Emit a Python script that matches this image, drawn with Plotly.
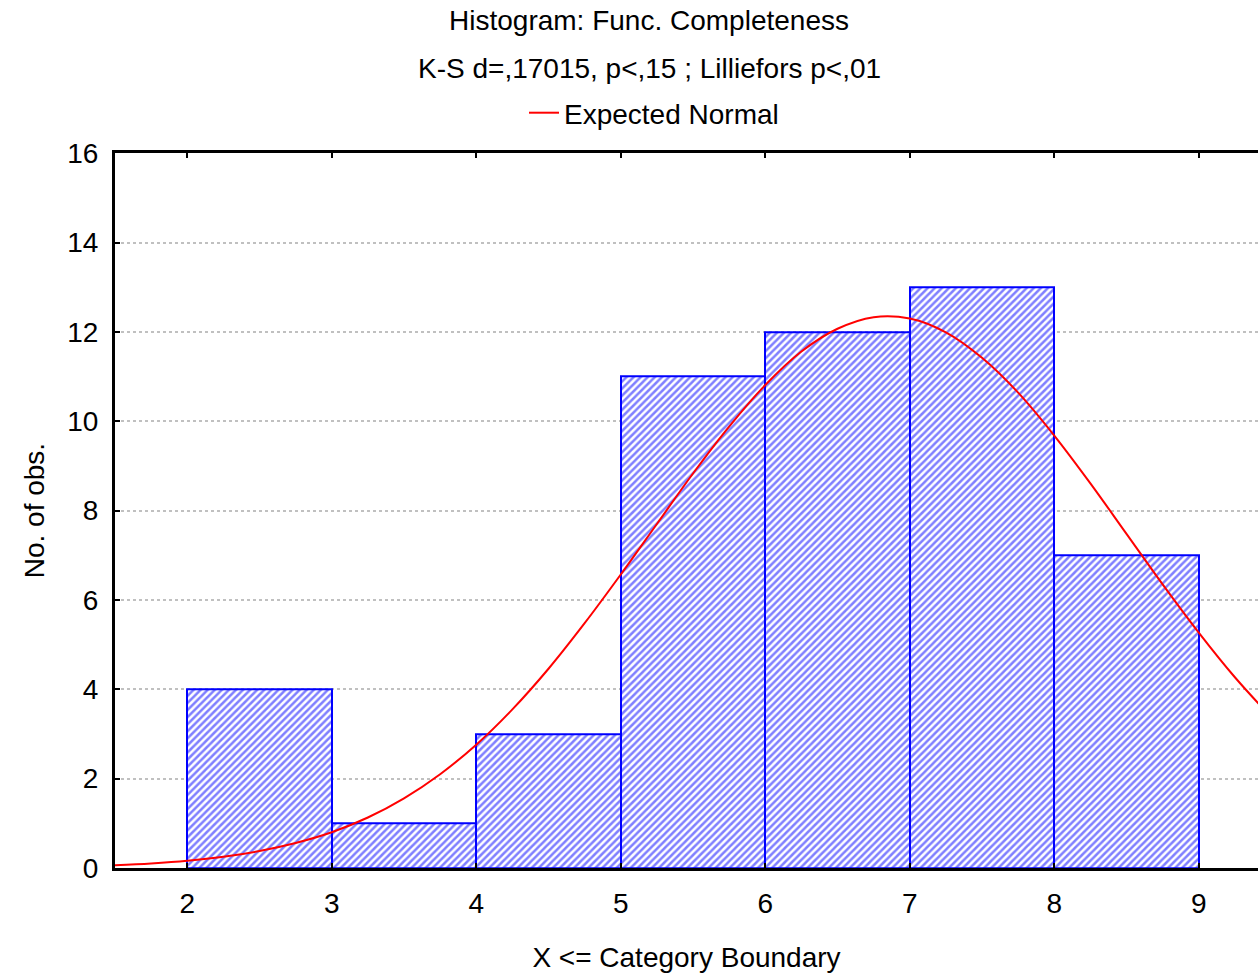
import plotly.graph_objects as go

# Histogram data (bin edges and counts)
bin_left = [2, 3, 4, 5, 6, 7, 8]
bin_right = [3, 4, 5, 6, 7, 8, 9]
counts = [4, 1, 3, 11, 12, 13, 7]

# Expected normal curve
curve_x = [1.5, 1.75, 2.0, 2.25, 2.5, 2.75, 3.0, 3.25, 3.5, 3.75, 4.0, 4.25, 4.5,
           4.75, 5.0, 5.25, 5.5, 5.75, 6.0, 6.25, 6.5, 6.75, 7.0, 7.25, 7.5, 7.75,
           8.0, 8.25, 8.5, 8.75, 9.0, 9.25, 9.5]
curve_y = [0.06, 0.10, 0.16, 0.25, 0.38, 0.56, 0.80, 1.13, 1.56, 2.10, 2.76, 3.55, 4.46,
           5.48, 6.57, 7.70, 8.83, 9.88, 10.81, 11.56, 12.07, 12.33, 12.30, 11.99, 11.42, 10.64,
           9.68, 8.61, 7.48, 6.35, 5.27, 4.27, 3.38]

x_ticks = [2, 3, 4, 5, 6, 7, 8, 9]
y_ticks = [0, 2, 4, 6, 8, 10, 12, 14, 16]

FONT = "Liberation Sans, Arial, sans-serif"
FS = 28

W, H = 1258, 973

centers = [(a + b) / 2 for a, b in zip(bin_left, bin_right)]
widths = [b - a for a, b in zip(bin_left, bin_right)]

fig = go.Figure()
fig.add_trace(go.Bar(
    x=centers, y=counts, width=widths,
    marker=dict(color="white",
                line=dict(color="#0000ff", width=2),
                pattern=dict(shape="/", fgcolor="#0000ff", bgcolor="white",
                             size=5, solidity=0.5)),
    showlegend=False, hoverinfo="skip",
))
fig.add_trace(go.Scatter(
    x=curve_x, y=curve_y, mode="lines",
    line=dict(color="#ff0000", width=2, shape="spline"),
    name="Expected Normal", hoverinfo="skip",
))

fig.update_layout(
    width=W, height=H,
    paper_bgcolor="white", plot_bgcolor="white",
    margin=dict(l=115, r=0, t=151, b=105),
    font=dict(family=FONT, size=FS, color="black"),
    title=dict(text="Histogram: Func. Completeness", x=649 / W, xanchor="center",
               xref="container", y=1 - 20 / H, yanchor="middle", yref="container",
               font=dict(family=FONT, size=FS, color="black")),
    annotations=[dict(text="K-S d=,17015, p&lt;,15 ; Lilliefors p&lt;,01",
                      xref="paper", yref="paper",
                      x=(649 - 115) / 1143, y=1 + (151 - 66) / 717,
                      xanchor="center", yanchor="middle", showarrow=False,
                      font=dict(family=FONT, size=FS, color="black"))],
    legend=dict(orientation="h", xref="container", yref="container",
                x=524 / W, xanchor="left", y=1 - 113 / H, yanchor="middle",
                font=dict(family=FONT, size=FS, color="black"),
                bgcolor="rgba(0,0,0,0)"),
    bargap=0,
)
fig.update_xaxes(
    range=[1.5, 9.41], tickvals=x_ticks, ticktext=[str(v) for v in x_ticks],
    showgrid=False, zeroline=False,
    showline=True, linecolor="black", linewidth=3, mirror="ticks",
    ticks="inside", ticklen=5, tickwidth=2, tickcolor="black",
    ticklabelstandoff=8,
    title=dict(text="X &lt;= Category Boundary", standoff=30,
               font=dict(family=FONT, size=FS, color="black")),
)
fig.update_yaxes(
    range=[0, 16], tickvals=y_ticks,
    showgrid=True, gridcolor="#c0c0c0", gridwidth=2, griddash="dot",
    zeroline=False,
    showline=True, linecolor="black", linewidth=3, mirror=False,
    ticks="inside", ticklen=5, tickwidth=2, tickcolor="black",
    ticklabelstandoff=8,
    title=dict(text="No. of obs.", standoff=15,
               font=dict(family=FONT, size=FS, color="black")),
)

fig.write_html("out.html",
               config={"displayModeBar": False},
               post_script="document.body.style.margin='0';"
                           "document.documentElement.style.margin='0';")
